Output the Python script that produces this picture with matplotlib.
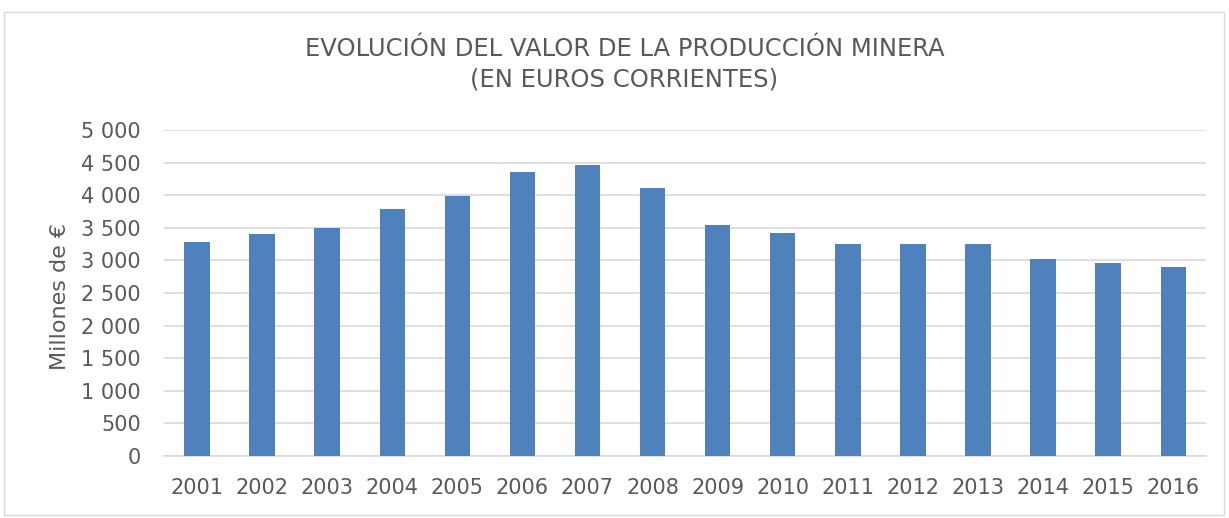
import numpy as np
import matplotlib.pyplot as plt
from matplotlib.patches import Rectangle

years = ['2001', '2002', '2003', '2004', '2005', '2006', '2007', '2008',
         '2009', '2010', '2011', '2012', '2013', '2014', '2015', '2016']
valor = [3277, 3410, 3497, 3785, 3985, 4354, 4467, 4118,
         3549, 3426, 3251, 3246, 3256, 3015, 2964, 2892]
yticks = [0, 500, 1000, 1500, 2000, 2500, 3000, 3500, 4000, 4500, 5000]
ytick_labels = ['0', '500', '1 000', '1 500', '2 000', '2 500', '3 000',
                '3 500', '4 000', '4 500', '5 000']

plt.rcParams['font.family'] = ['DejaVu Sans']
gris = '#595959'

fig = plt.figure(figsize=(12.29, 5.18), dpi=100)
ax = fig.add_axes([0.1338, 0.1197, 0.8473, 0.6293])

# marco exterior
fig.patches.append(Rectangle((4 / 1229, 3 / 518), 1220 / 1229, 503 / 518,
                             transform=fig.transFigure, fill=False,
                             edgecolor='#d9d9d9', linewidth=1))

x = np.arange(len(years))
ax.bar(x, valor, width=0.39, color='#4f81bd', zorder=3)

ax.set_xlim(-0.5, len(years) - 0.5)
ax.set_ylim(0, 5000)
ax.set_yticks(yticks)
ax.set_yticklabels(ytick_labels)
ax.set_xticks(x)
ax.set_xticklabels(years)
ax.tick_params(axis='both', length=0, labelsize=15, colors=gris)
ax.tick_params(axis='y', pad=17)
ax.tick_params(axis='x', pad=16)
ax.yaxis.grid(True, color='#d9d9d9', linewidth=1.2, zorder=0)
for s in ['top', 'right', 'left']:
    ax.spines[s].set_visible(False)
ax.spines['bottom'].set_color('#d9d9d9')
ax.spines['bottom'].set_linewidth(1.2)

ax.set_ylabel('Millones de €', fontsize=16, color=gris)
ax.yaxis.set_label_coords(-0.091, 0.488)
fig.text(0.508, 0.876, 'EVOLUCIÓN DEL VALOR DE LA PRODUCCIÓN MINERA\n(EN EUROS CORRIENTES)',
         ha='center', va='center', fontsize=17.5, color=gris, linespacing=1.3)

plt.savefig('out.png', dpi=100)
